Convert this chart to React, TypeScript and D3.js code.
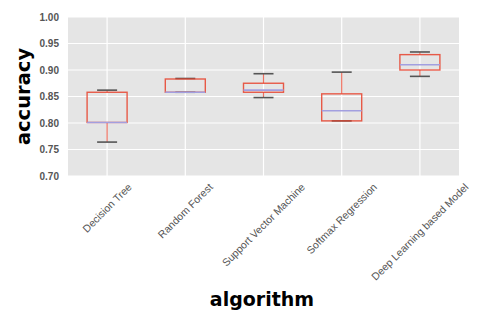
import React, { useEffect, useRef } from 'react'
import * as d3 from 'd3'

const algorithms = ['Decision Tree', 'Random Forest', 'Support Vector Machine', 'Softmax Regression', 'Deep Learning based Model']
const mins = [0.764, 0.858, 0.848, 0.804, 0.888]
const q1s = [0.801, 0.858, 0.858, 0.804, 0.9]
const medians = [0.801, 0.858, 0.862, 0.823, 0.91]
const q3s = [0.858, 0.883, 0.875, 0.855, 0.929]
const maxs = [0.862, 0.884, 0.893, 0.896, 0.934]
const yTicks = [0.7, 0.75, 0.8, 0.85, 0.9, 0.95, 1.0]

export default function App() {
  const ref = useRef<SVGSVGElement>(null)

  useEffect(() => {
    const width = 485
    const height = 323
    const m = { left: 68, right: 26, top: 17, bottom: 147 }
    const svg = d3.select(ref.current)
    svg.selectAll('*').remove()

    const x = d3.scaleBand().domain(algorithms).range([m.left, width - m.right])
    const y = d3.scaleLinear().domain([0.7, 1.0]).range([height - m.bottom, m.top])

    svg.append('rect')
      .attr('x', m.left).attr('y', m.top)
      .attr('width', width - m.left - m.right)
      .attr('height', height - m.top - m.bottom)
      .attr('fill', '#e5e5e5')

    // gridlines
    svg.append('g').selectAll('line').data(yTicks).join('line')
      .attr('x1', m.left).attr('x2', width - m.right)
      .attr('y1', d => y(d)).attr('y2', d => y(d))
      .attr('stroke', '#fff').attr('stroke-width', 1.2)
    svg.append('g').selectAll('line').data(algorithms).join('line')
      .attr('x1', d => x(d)! + x.bandwidth() / 2).attr('x2', d => x(d)! + x.bandwidth() / 2)
      .attr('y1', m.top).attr('y2', height - m.bottom)
      .attr('stroke', '#fff').attr('stroke-width', 1.2)

    // y tick labels
    svg.append('g').selectAll('text').data(yTicks).join('text')
      .attr('x', m.left - 9).attr('y', d => y(d)).attr('dy', '0.35em')
      .attr('text-anchor', 'end')
      .attr('font-family', 'Liberation Sans, Arial, sans-serif')
      .attr('font-weight', 'bold').attr('font-size', 10).attr('fill', '#555')
      .text(d => d.toFixed(2))

    const boxW = 40
    const capW = 20
    const red = '#e8412c'
    const boxes = svg.append('g').selectAll('g').data(algorithms).join('g')
      .attr('transform', d => `translate(${x(d)! + x.bandwidth() / 2},0)`)

    // whiskers
    boxes.append('line')
      .attr('y1', (d, i) => y(q3s[i])).attr('y2', (d, i) => y(maxs[i]))
      .attr('stroke', red).attr('stroke-opacity', 0.75).attr('stroke-width', 1.2)
    boxes.append('line')
      .attr('y1', (d, i) => y(q1s[i])).attr('y2', (d, i) => y(mins[i]))
      .attr('stroke', red).attr('stroke-opacity', 0.75).attr('stroke-width', 1.2)
    // caps
    boxes.append('line')
      .attr('x1', -capW / 2).attr('x2', capW / 2)
      .attr('y1', (d, i) => y(maxs[i])).attr('y2', (d, i) => y(maxs[i]))
      .attr('stroke', '#555').attr('stroke-width', 1.6)
    boxes.append('line')
      .attr('x1', -capW / 2).attr('x2', capW / 2)
      .attr('y1', (d, i) => y(mins[i])).attr('y2', (d, i) => y(mins[i]))
      .attr('stroke', '#555').attr('stroke-width', 1.6)
    // boxes
    boxes.append('rect')
      .attr('x', -boxW / 2).attr('width', boxW)
      .attr('y', (d, i) => y(q3s[i]))
      .attr('height', (d, i) => y(q1s[i]) - y(q3s[i]))
      .attr('fill', 'none').attr('stroke', red).attr('stroke-opacity', 0.85).attr('stroke-width', 1.4)
    // medians
    boxes.append('line')
      .attr('x1', -boxW / 2).attr('x2', boxW / 2)
      .attr('y1', (d, i) => y(medians[i])).attr('y2', (d, i) => y(medians[i]))
      .attr('stroke', '#a29fe0').attr('stroke-width', 1.6)

    // x tick labels rotated 45deg, centred on tick
    const top = height - m.bottom + 6
    const labels = svg.append('g').selectAll('text').data(algorithms).join('text')
      .attr('text-anchor', 'middle')
      .attr('font-family', 'Liberation Sans, Arial, sans-serif')
      .attr('font-size', 10.5).attr('fill', '#555')
      .attr('dy', '0.35em')
      .text(d => d)
    labels.each(function (d) {
      const t = this as SVGTextElement
      const L = t.getComputedTextLength()
      const h = (L + 9) * Math.SQRT1_2
      d3.select(t).attr('transform', `translate(${x(d)! + x.bandwidth() / 2},${top + h / 2}) rotate(-45)`)
    })

    svg.append('text')
      .attr('transform', `translate(30,${(m.top + height - m.bottom) / 2}) rotate(-90)`)
      .attr('text-anchor', 'middle')
      .attr('font-family', 'DejaVu Sans, sans-serif')
      .attr('font-weight', 'bold').attr('font-size', 19.5)
      .text('accuracy')

    svg.append('text')
      .attr('x', 262).attr('y', 306)
      .attr('text-anchor', 'middle')
      .attr('font-family', 'DejaVu Sans, sans-serif')
      .attr('font-weight', 'bold').attr('font-size', 19)
      .text('algorithm')
  }, [])

  return (
    <svg ref={ref} width={485} height={323} style={{ position: 'absolute', left: 0, top: 0, background: '#fff' }} />
  )
}
